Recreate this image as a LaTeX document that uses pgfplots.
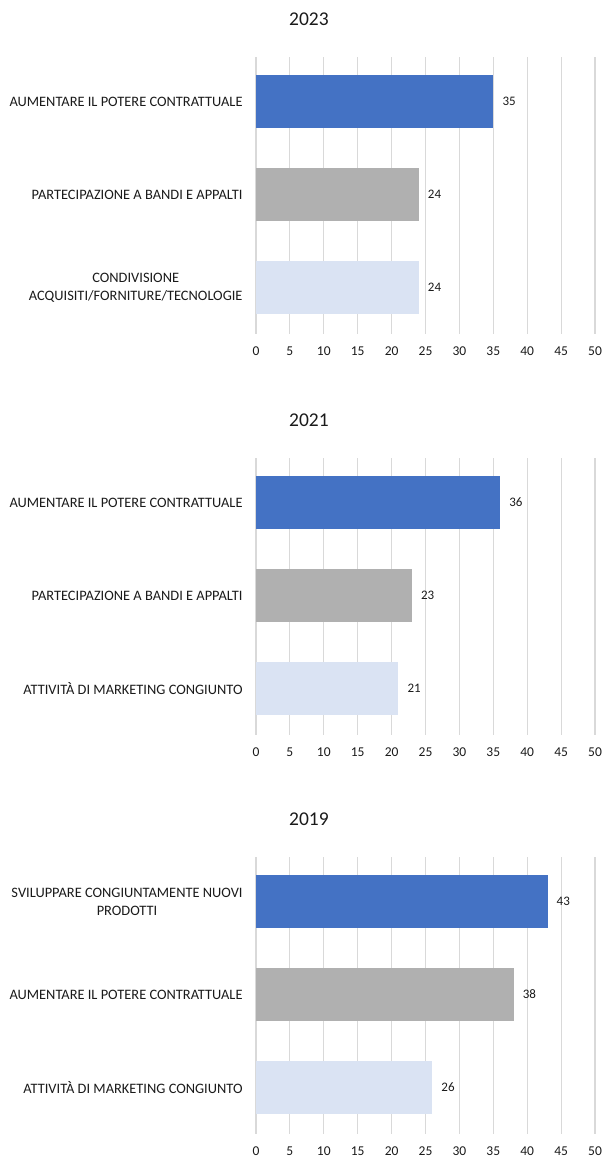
\documentclass[border=0pt]{standalone}
\usepackage{pgfplots}
\pgfplotsset{compat=1.18}
\usepackage{fontspec}
\setmainfont{Carlito}
\definecolor{cblue}{HTML}{4472C4}
\definecolor{cgray}{HTML}{B0B0B0}
\definecolor{clight}{HTML}{DAE3F3}
\definecolor{cgrid}{HTML}{D9D9D9}
\definecolor{ctext}{HTML}{1A1A1A}
\pgfplotsset{
  panel/.style={
    xbar, bar width=53pt,
    width=339pt, height=277pt, scale only axis, anchor=north west,
    xmin=0, xmax=50, xtick={0,5,...,50},
    ymin=-0.48, ymax=2.5, y dir=reverse, ytick={0,1,2},
    axis line style={draw=none}, major tick style={draw=none},
    xmajorgrids, major grid style={cgrid, line width=1.1pt},
    /pgf/number format/assume math mode=true,
    xticklabel style={font=\fontsize{13.5}{15}\selectfont, text=ctext, anchor=north, inner sep=0pt, yshift=-13pt},
    yticklabel style={font=\fontsize{14.4}{17.5}\selectfont, text=ctext, align=center, anchor=east, inner sep=0pt, xshift=-9pt},
    nodes near coords,
    every node near coord/.append style={font=\fontsize{13}{14}\selectfont, text=ctext, anchor=west, inner sep=0pt, xshift=9pt},
    title style={at={(0.156,1.115)}, anchor=center, font=\fontsize{19.5}{21}\selectfont, text=ctext},
    clip=false,
  },
  barA/.style={draw=none, fill=cblue, bar shift=0pt},
  barB/.style={draw=none, fill=cgray, bar shift=0pt},
  barC/.style={draw=none, fill=clight, bar shift=0pt},
}
\begin{document}
\begin{tikzpicture}[x=1pt,y=1pt]
\useasboundingbox (0,0) rectangle (604,-1159);

% 2023
\begin{axis}[panel, at={(256pt,-57pt)}, title={2023},
  yticklabels={{AUMENTARE IL POTERE CONTRATTUALE},{PARTECIPAZIONE A BANDI E APPALTI},{CONDIVISIONE\\ACQUISITI/FORNITURE/TECNOLOGIE}}]
\addplot[barA] coordinates {(35,0)};
\addplot[barB] coordinates {(24,1)};
\addplot[barC] coordinates {(24,2)};
\end{axis}

% 2021
\begin{axis}[panel, at={(256pt,-458pt)}, title={2021},
  yticklabels={{AUMENTARE IL POTERE CONTRATTUALE},{PARTECIPAZIONE A BANDI E APPALTI},{ATTIVITÀ DI MARKETING CONGIUNTO}}]
\addplot[barA] coordinates {(36,0)};
\addplot[barB] coordinates {(23,1)};
\addplot[barC] coordinates {(21,2)};
\end{axis}

% 2019
\begin{axis}[panel, at={(256pt,-857pt)}, title={2019},
  yticklabels={{SVILUPPARE CONGIUNTAMENTE NUOVI\\PRODOTTI},{AUMENTARE IL POTERE CONTRATTUALE},{ATTIVITÀ DI MARKETING CONGIUNTO}}]
\addplot[barA] coordinates {(43,0)};
\addplot[barB] coordinates {(38,1)};
\addplot[barC] coordinates {(26,2)};
\end{axis}
\end{tikzpicture}
\end{document}
